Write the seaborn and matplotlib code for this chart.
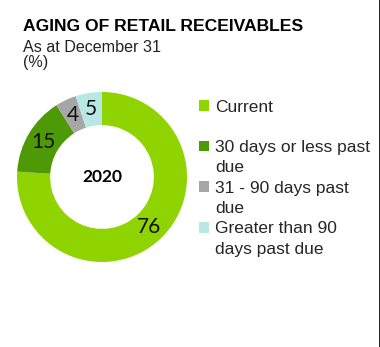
import matplotlib
matplotlib.use("Agg")
import matplotlib.pyplot as plt
from matplotlib.patches import Patch
from matplotlib.lines import Line2D
import seaborn as sns

# ---- data ----
categories = ["Current", "30 days or less past\ndue", "31 - 90 days past\ndue",
              "Greater than 90\ndays past due"]
values = [76, 15, 4, 5]
colors = ["#8FD400", "#4E9A06", "#A6A6A6", "#B8E8E4"]
center_label = "2020"
title = "AGING OF RETAIL RECEIVABLES"
subtitle = "As at December 31"
unit = "(%)"

sns.set_theme(style="white")
plt.rcParams["font.family"] = ["Liberation Sans", "DejaVu Sans"]

W, H = 380, 347
fig = plt.figure(figsize=(W / 100, H / 100), dpi=100)
fig.patch.set_facecolor("white")

cx, cy, r = 102, 177, 85
ax = fig.add_axes([(cx - r) / W, (H - cy - r) / H, 2 * r / W, 2 * r / H])
wedges, texts, autotexts = ax.pie(
    values, colors=colors, startangle=90, counterclock=False,
    radius=1.0, wedgeprops=dict(width=0.39, edgecolor="none"),
    autopct="%.0f", pctdistance=0.805,
    textprops=dict(fontsize=15, family="Lato", color="#111111"),
)
ax.set_xlim(-1, 1)
ax.set_ylim(-1, 1)
ax.set_aspect("equal")
ax.text(0, 0.0, center_label, ha="center", va="center", fontsize=12.5,
        fontweight="bold", family="Lato", color="black")

# titles
fig.text(23 / W, (H - 31) / H, title, fontsize=12.6, fontweight="bold",
         va="baseline", ha="left", color="black")
fig.text(23 / W, (H - 51.5) / H, subtitle, fontsize=11.6, va="baseline",
         ha="left", color="#222222")
fig.text(23 / W, (H - 67) / H, unit, fontsize=11.6, va="baseline",
         ha="left", color="#222222")

# legend: each entry uses two rows; continuation rows have blank handles
handles, labels = [], []
blank = Patch(facecolor="none", edgecolor="none")
for cat, col in zip(categories, colors):
    parts = cat.split("\n")
    first = parts[0]
    rest = parts[1] if len(parts) > 1 else ""
    handles.append(Patch(facecolor=col, edgecolor="none"))
    labels.append(first)
    handles.append(blank)
    labels.append(rest)
leg = fig.legend(handles, labels, loc="upper left",
                 bbox_to_anchor=(199 / W, (H - 99.5) / H),
                 frameon=False, fontsize=12.5, handlelength=0.575,
                 handleheight=0.575, handletextpad=0.345, labelspacing=0.305,
                 borderpad=0, borderaxespad=0)

# right border line
fig.add_artist(Line2D([379.5 / W, 379.5 / W], [0, 1], color="black",
                      linewidth=1.2, transform=fig.transFigure))

fig.savefig("out.png", dpi=100, facecolor="white")
